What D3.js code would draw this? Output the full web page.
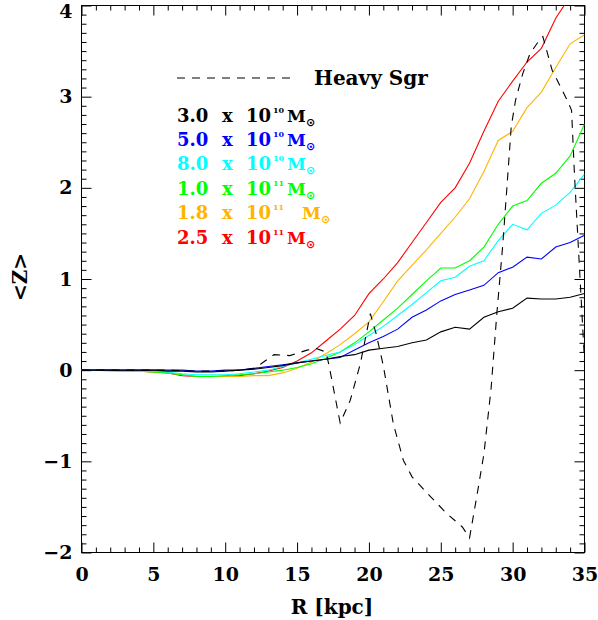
<!DOCTYPE html>
<html>
<head>
<meta charset="utf-8">
<script src="https://cdn.jsdelivr.net/npm/d3@7"></script>
<style>
  html, body { margin: 0; padding: 0; background: #fff; }
  svg { display: block; }
  .lbl { font-family: "DejaVu Serif", serif; font-weight: bold; }
</style>
</head>
<body>
<svg id="chart" width="598" height="620"></svg>
<script>
// ---- data ----
const radii = [0,1,2,3,4,5,6,7,8,9,10,11,12,13,14,15,16,17,18,19,20,21,22,23,24,25,26,27,28,29,30,31,32,33,34,35];
const z30e10 = [0,0,0,0,0,0,-0.01,-0.01,-0.02,-0.02,-0.01,0,0.01,0.03,0.05,0.08,0.1,0.12,0.15,0.17,0.22,0.24,0.26,0.3,0.33,0.42,0.47,0.45,0.58,0.64,0.68,0.79,0.78,0.78,0.8,0.84];
const z50e10 = [0,0,0,0,0,0,0,0,-0.01,-0.01,0,0,0.02,0.04,0.06,0.08,0.1,0.12,0.14,0.22,0.3,0.37,0.45,0.58,0.66,0.76,0.83,0.88,0.93,1.07,1.13,1.24,1.22,1.35,1.4,1.48];
const z80e10 = [0,0,-0.01,-0.01,-0.01,-0.01,-0.02,-0.04,-0.05,-0.05,-0.05,-0.04,-0.02,0,0.04,0.08,0.12,0.16,0.2,0.28,0.38,0.48,0.6,0.72,0.85,0.98,1.02,1.14,1.2,1.42,1.6,1.54,1.72,1.81,1.95,2.15];
const z10e11 = [0,0,0,-0.01,-0.01,-0.02,-0.03,-0.05,-0.07,-0.07,-0.06,-0.05,-0.04,-0.02,0,0.03,0.07,0.13,0.2,0.3,0.42,0.55,0.68,0.83,0.98,1.12,1.12,1.2,1.35,1.6,1.8,1.86,2.05,2.16,2.35,2.7];
const z18e11 = [0,0,0,-0.01,-0.01,-0.02,-0.03,-0.05,-0.07,-0.07,-0.07,-0.07,-0.06,-0.06,-0.03,0.02,0.09,0.18,0.28,0.4,0.53,0.75,0.98,1.15,1.32,1.5,1.68,1.88,2.18,2.52,2.62,2.88,3.05,3.32,3.58,3.68];
const z25e11 = [0,0,0,-0.01,-0.01,-0.02,-0.03,-0.06,-0.07,-0.07,-0.07,-0.06,-0.04,-0.01,0.03,0.1,0.19,0.32,0.45,0.6,0.84,1.0,1.18,1.4,1.62,1.84,2.0,2.27,2.62,2.95,3.17,3.38,3.53,3.86,4.1,4.4];

const sgrR = [0,2,4,6,8,10,11,12,12.5,13.4,14.5,15.7,16.3,17,17.2,18,18.7,19.4,20.1,20.5,21,21.7,22.4,23,24.3,25.4,26.5,27,27.5,28,28.5,28.9,29.3,29.6,29.9,30.2,30.7,31.2,31.9,32.1,32.75,33.8,34.1,34.3,35];
const sgrZ = [0,0,0,0,-0.01,-0.01,0,0.02,0.07,0.17,0.16,0.22,0.24,0.2,0.07,-0.58,-0.33,0.07,0.62,0.4,0.05,-0.59,-0.99,-1.17,-1.39,-1.57,-1.72,-1.84,-1.39,-0.92,-0.2,0.62,1.35,2.0,2.67,2.96,3.25,3.47,3.63,3.66,3.29,2.96,2.85,2.15,0.1];

const seriesLabels = ["3.0", "5.0", "8.0", "1.0", "1.8", "2.5"];
const seriesExp = ["10", "10", "10", "11", "11", "11"];
const seriesColors = ["#000000", "#0000ff", "#00ffff", "#00ff00", "#ffb400", "#ff0000"];
const seriesValues = [z30e10, z50e10, z80e10, z10e11, z18e11, z25e11];

const xMajor = [0,5,10,15,20,25,30,35];
const yMajor = [-2,-1,0,1,2,3,4];

// ---- layout ----
const L = 81.5, R = 584.5, T = 5.5, B = 552.5;
const svg = d3.select("#chart");
const x = d3.scaleLinear().domain([0,35]).range([L,R]);
const y = d3.scaleLinear().domain([-2,4]).range([B,T]);

const xMinor = d3.range(0,36,1).filter(v => v % 5 !== 0);
const yMinor = d3.range(-20,41,1).filter(v => v % 10 !== 0).map(v => v/10);

function styleAxis(g) {
  g.select(".domain").remove();
  g.selectAll("line").attr("stroke", "#000").attr("stroke-width", 1);
}
const fmt = d => d < 0 ? "\u2212" + Math.abs(d) : String(d);

// bottom
svg.append("g").attr("transform", `translate(0,${B})`)
  .call(d3.axisBottom(x).tickValues(xMajor).tickSize(-10).tickPadding(15).tickFormat(fmt))
  .call(styleAxis)
  .call(g => g.selectAll("text").attr("class","lbl").attr("font-size", 19).attr("fill","#000"));
svg.append("g").attr("transform", `translate(0,${B})`)
  .call(d3.axisBottom(x).tickValues(xMinor).tickSize(-5).tickFormat(""))
  .call(styleAxis);
// top
svg.append("g").attr("transform", `translate(0,${T})`)
  .call(d3.axisTop(x).tickValues(xMajor).tickSize(-10).tickFormat(""))
  .call(styleAxis);
svg.append("g").attr("transform", `translate(0,${T})`)
  .call(d3.axisTop(x).tickValues(xMinor).tickSize(-5).tickFormat(""))
  .call(styleAxis);
// left
svg.append("g").attr("transform", `translate(${L},0)`)
  .call(d3.axisLeft(y).tickValues(yMajor).tickSize(-10).tickPadding(9).tickFormat(fmt))
  .call(styleAxis)
  .call(g => g.selectAll("text").attr("class","lbl").attr("font-size", 19).attr("fill","#000"))
  .call(g => g.selectAll(".tick").filter(d => d === 4).select("text").attr("dy", "0.62em"));
svg.append("g").attr("transform", `translate(${L},0)`)
  .call(d3.axisLeft(y).tickValues(yMinor).tickSize(-5).tickFormat(""))
  .call(styleAxis);
// right
svg.append("g").attr("transform", `translate(${R},0)`)
  .call(d3.axisRight(y).tickValues(yMajor).tickSize(-10).tickFormat(""))
  .call(styleAxis);
svg.append("g").attr("transform", `translate(${R},0)`)
  .call(d3.axisRight(y).tickValues(yMinor).tickSize(-5).tickFormat(""))
  .call(styleAxis);

// frame
svg.append("rect").attr("x", L).attr("y", T).attr("width", R-L).attr("height", B-T)
  .attr("fill","none").attr("stroke","#000").attr("stroke-width",1);

// clip
svg.append("clipPath").attr("id","clip").append("rect")
  .attr("x", L).attr("y", T).attr("width", R-L).attr("height", B-T);

const line = d3.line().x(d => x(d[0])).y(d => y(d[1]));
const plot = svg.append("g").attr("clip-path","url(#clip)");

// draw curves (red first, black last)
for (let i = seriesValues.length - 1; i >= 0; i--) {
  plot.append("path")
    .datum(radii.map((r, j) => [r, seriesValues[i][j]]))
    .attr("d", line).attr("fill","none")
    .attr("stroke", seriesColors[i]).attr("stroke-width", 1.1);
}
plot.append("path")
  .datum(sgrR.map((r, j) => [r, sgrZ[j]]))
  .attr("d", line).attr("fill","none")
  .attr("stroke", "#000").attr("stroke-width", 1.1).attr("stroke-dasharray","8,7");

// axis titles
svg.append("text").attr("class","lbl").attr("x", 332).attr("y", 614)
  .attr("text-anchor","middle").attr("font-size", 20).text("R [kpc]");
svg.append("text").attr("class","lbl")
  .attr("transform","translate(27,277) rotate(-90)")
  .attr("text-anchor","middle").attr("font-size", 20).text("<Z>");

// legend
svg.append("line").attr("x1",177).attr("x2",296).attr("y1",78).attr("y2",78)
  .attr("stroke","#000").attr("stroke-width",1.1).attr("stroke-dasharray","8,7");
svg.append("text").attr("class","lbl").attr("x",314).attr("y",85)
  .attr("font-size",20).text("Heavy Sgr");

seriesLabels.forEach((lab, i) => {
  const yb = 121.5 + i * 24.4;
  const c = seriesColors[i];
  const g = svg.append("g").attr("fill", c);
  g.append("text").attr("class","lbl").attr("x",177).attr("y",yb).attr("font-size",18).text(lab);
  g.append("text").attr("class","lbl").attr("x",222).attr("y",yb).attr("font-size",18).text("x");
  g.append("text").attr("class","lbl").attr("x",246).attr("y",yb).attr("font-size",18).text("10");
  g.append("text").attr("class","lbl").attr("x",273).attr("y",yb-9).attr("font-size",8).text(seriesExp[i]);
  const mx = (i === 4) ? 302 : 287;
  g.append("text").attr("class","lbl").attr("x",mx).attr("y",yb).attr("font-size",17).text("M");
  g.append("text").attr("x",mx+19).attr("y",yb+4)
    .attr("font-family","DejaVu Sans").attr("font-weight","bold").attr("font-size",11).text("\u2299");
});
</script>
</body>
</html>
